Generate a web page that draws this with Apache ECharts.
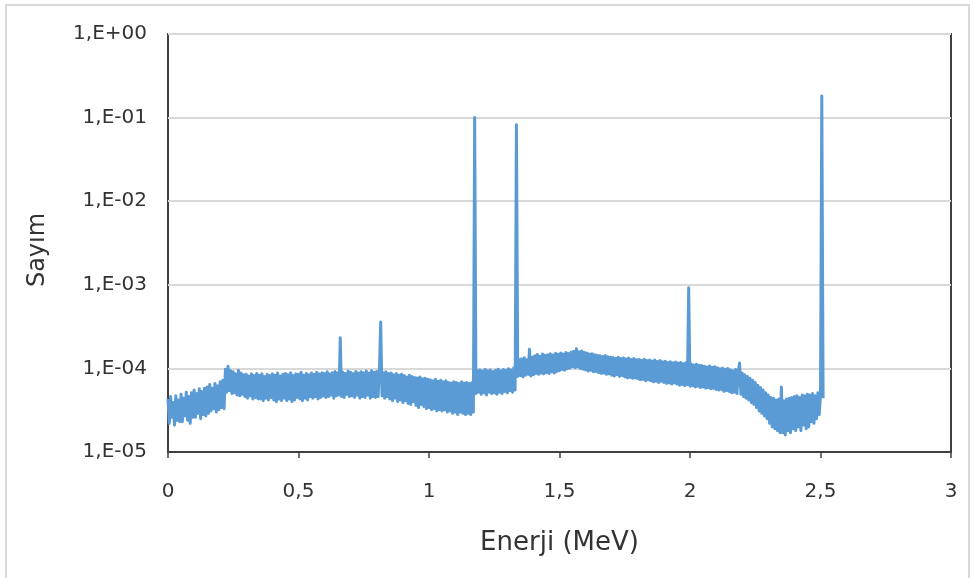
<!DOCTYPE html>
<html>
<head>
<meta charset="utf-8">
<script src="https://cdn.jsdelivr.net/npm/echarts@6/dist/echarts.min.js"></script>
<style>
  html, body { margin: 0; padding: 0; background: #fff; }
  #chart { width: 974px; height: 578px; }
</style>
</head>
<body>
<div id="chart"></div>
<script>
// Gamma spectrum: counts per channel, channel width 0.005 MeV, starting at 0 MeV.
// Counts are listed in units of 1e-5.
const CHANNEL_WIDTH = 0.005;
const COUNT_UNIT = 1e-5;

// 0.000 - 0.495 MeV
const countsA = [
  4.3, 2.2, 4.6, 2.6, 3.9, 2.1, 4.7, 2.4, 4.2, 2.3,
  4.9, 2.3, 4.4, 2.7, 5.2, 2.4, 4.6, 2.2, 5.1, 2.6,
  5.5, 2.6, 5.0, 2.9, 5.7, 2.5, 5.3, 2.8, 5.8, 2.7,
  6.0, 2.9, 6.4, 3.1, 5.8, 3.3, 6.6, 3.0, 6.2, 3.2,
  6.9, 3.4, 7.2, 3.3, 9.8, 5.2, 10.6, 5.4, 9.4, 5.0,
  9.1, 5.1, 8.6, 4.8, 9.5, 4.7, 8.8, 4.9, 8.4, 4.6,
  8.5, 4.4, 8.1, 4.7, 8.6, 4.3, 8.2, 4.5, 8.7, 4.3,
  8.3, 4.3, 8.6, 4.1, 8.0, 4.4, 8.5, 4.2, 8.2, 4.5,
  8.6, 4.2, 8.3, 4.0, 8.8, 4.3, 8.1, 4.1, 8.5, 4.4,
  8.7, 4.1, 8.4, 4.3, 8.9, 4.0, 8.2, 4.2, 8.6, 4.5
];

// 0.500 - 0.995 MeV (lines at 0.660 and 0.815 MeV)
const countsB = [
  8.5, 4.3, 9.0, 4.1, 8.3, 4.4, 8.7, 4.2, 8.4, 4.6,
  8.8, 4.4, 8.5, 4.6, 9.0, 4.3, 8.6, 4.5, 8.9, 4.7,
  8.7, 4.5, 9.1, 4.6, 8.6, 4.8, 8.9, 4.4, 9.2, 4.7,
  8.8, 4.8, 23.3, 4.6, 9.0, 4.5, 8.7, 4.9, 9.3, 4.6,
  9.0, 4.7, 8.7, 4.5, 9.2, 4.8, 8.8, 4.4, 9.1, 4.6,
  8.9, 4.5, 9.3, 4.8, 8.8, 4.4, 9.4, 4.6, 9.0, 4.5,
  9.2, 4.6, 9.5, 36.0, 4.7, 8.9, 4.4, 9.1, 4.6, 8.7,
  4.3, 8.8, 4.1, 8.4, 4.4, 8.7, 4.0, 8.3, 4.2, 8.5,
  3.9, 8.2, 4.1, 7.9, 3.8, 8.3, 3.7, 8.0, 4.0, 7.8,
  3.6, 7.7, 3.4, 7.9, 3.7, 7.5, 3.5, 7.6, 3.3, 7.4
];

// 1.000 - 1.495 MeV (lines at 1.175 and 1.335 MeV)
const countsC = [
  3.4, 7.3, 3.2, 7.1, 3.3, 7.4, 3.1, 7.0, 3.2, 7.2,
  3.1, 6.9, 3.2, 7.1, 3.0, 6.8, 3.1, 6.7, 2.9, 6.9,
  3.0, 6.8, 2.8, 6.6, 3.0, 6.9, 2.9, 6.7, 2.8, 6.8,
  2.9, 6.6, 2.8, 6.8, 3.0, 10000, 5.0, 9.4, 5.2, 9.6,
  4.9, 9.3, 5.1, 9.7, 4.8, 9.4, 5.2, 9.6, 5.0, 9.2,
  5.1, 9.5, 4.9, 9.8, 5.2, 9.4, 5.0, 9.7, 5.3, 9.5,
  5.1, 9.9, 5.4, 9.6, 5.2, 10.2, 5.5, 8200, 8.0, 12.8,
  8.2, 13.0, 7.9, 13.4, 8.3, 12.7, 8.5, 17.0, 8.1, 13.6,
  8.4, 14.2, 8.7, 14.7, 8.5, 14.0, 8.8, 14.9, 8.6, 14.4,
  8.9, 14.6, 8.7, 15.0, 9.1, 14.5, 8.8, 15.2, 9.2, 14.8
];

// 1.500 - 1.995 MeV (line at 1.995 MeV)
const countsD = [
  9.4, 15.3, 9.7, 14.9, 9.5, 15.5, 9.9, 15.1, 10.1, 15.7,
  10.5, 16.0, 10.2, 17.2, 10.4, 15.8, 10.0, 16.1, 9.8, 15.6,
  9.6, 15.3, 9.3, 14.9, 9.5, 15.0, 9.1, 14.6, 9.2, 14.4,
  8.9, 14.2, 8.7, 13.9, 8.8, 14.3, 8.5, 13.8, 8.6, 13.6,
  8.3, 13.5, 8.1, 13.2, 8.4, 13.6, 8.0, 13.1, 8.2, 13.3,
  7.9, 13.0, 7.7, 13.3, 7.8, 12.8, 7.6, 13.1, 7.7, 12.7,
  7.5, 12.8, 7.3, 12.5, 7.4, 12.9, 7.1, 12.4, 7.3, 12.6,
  7.1, 12.3, 6.9, 12.6, 7.0, 12.1, 6.8, 12.4, 7.0, 12.0,
  6.8, 12.2, 6.6, 11.8, 6.7, 12.0, 6.5, 11.7, 6.7, 11.9,
  6.5, 11.6, 6.3, 11.8, 6.4, 11.4, 6.2, 11.7, 6.4, 92.0
];

// 2.000 - 2.510 MeV (sum line at 2.505 MeV)
const countsE = [
  6.1, 11.3, 6.2, 11.0, 6.0, 11.2, 6.1, 10.9, 5.9, 10.8,
  6.0, 10.6, 5.8, 10.4, 5.9, 10.7, 5.7, 10.3, 5.8, 10.5,
  5.6, 10.2, 5.5, 9.9, 5.6, 10.1, 5.3, 9.8, 5.4, 10.0,
  5.3, 9.6, 5.1, 9.4, 5.2, 9.7, 5.0, 9.3, 11.6, 4.9,
  8.8, 4.6, 8.4, 4.4, 8.0, 4.2, 7.6, 3.9, 7.2, 3.7,
  6.8, 3.4, 6.3, 3.1, 5.9, 2.9, 5.5, 2.7, 5.1, 2.5,
  4.8, 2.2, 4.5, 2.0, 4.4, 1.9, 4.2, 1.8, 4.3, 1.7,
  6.0, 1.7, 4.1, 1.6, 4.3, 1.8, 4.4, 1.7, 4.5, 1.9,
  4.6, 1.8, 4.7, 2.0, 4.5, 1.8, 4.8, 2.1, 4.7, 1.9,
  4.9, 2.0, 4.8, 2.3, 5.0, 2.2, 4.7, 2.5, 5.1, 2.8,
  4.8, 18100, 4.4
];

const yTickExponents = [0, -1, -2, -3, -4, -5];
const xTicks = [0, 0.5, 1, 1.5, 2, 2.5, 3];

const counts = [].concat(countsA, countsB, countsC, countsD, countsE);
const spectrum = counts.map((c, i) => [+(i * CHANNEL_WIDTH).toFixed(3), c * COUNT_UNIT]);

const FONT = 'DejaVu Sans';
const TEXT = '#333333';

function expLabel(v) {
  const e = Math.round(Math.log10(v));
  if (!yTickExponents.includes(e)) return '';
  const sign = e < 0 ? '-' : '+';
  const mag = String(Math.abs(e)).padStart(2, '0');
  return '1,E' + sign + mag;
}

const chart = echarts.init(document.getElementById('chart'), null, { renderer: 'canvas' });
chart.setOption({
  animation: false,
  backgroundColor: '#ffffff',
  graphic: [{
    type: 'rect',
    shape: { x: 6, y: 5, width: 963, height: 600 },
    style: { fill: 'none', stroke: '#d9d9d9', lineWidth: 2 },
    silent: true, z: -1
  }],
  grid: {
    left: 168, right: 23, top: 34, bottom: 126,
    show: true, borderColor: '#404040', borderWidth: 2, backgroundColor: 'transparent'
  },
  xAxis: {
    type: 'value',
    min: xTicks[0], max: xTicks[xTicks.length - 1], interval: 0.5,
    name: 'Enerji (MeV)',
    nameLocation: 'middle', nameGap: 78,
    nameTextStyle: { fontFamily: FONT, fontSize: 26, color: TEXT },
    axisLine: { show: true, lineStyle: { color: '#404040', width: 2 } },
    axisTick: { show: true, inside: false, length: 6, lineStyle: { color: '#404040', width: 1.5 } },
    axisLabel: {
      margin: 30, fontFamily: FONT, fontSize: 20, color: TEXT,
      formatter: v => String(v).replace('.', ',')
    },
    splitLine: { show: false }
  },
  yAxis: {
    type: 'log', logBase: 10,
    min: Math.pow(10, yTickExponents[yTickExponents.length - 1]),
    max: Math.pow(10, yTickExponents[0]),
    name: 'Sayım',
    nameLocation: 'middle', nameGap: 118, nameRotate: 90,
    nameTextStyle: { fontFamily: FONT, fontSize: 24, color: TEXT, padding: [0, 14, 0, 0] },
    axisLine: { show: false },
    axisTick: { show: false },
    axisLabel: { margin: 21, fontFamily: FONT, fontSize: 20, color: TEXT, formatter: expLabel },
    splitLine: { show: true, lineStyle: { color: '#d9d9d9', width: 2 } },
    minorTick: { show: false }
  },
  series: [{
    type: 'line',
    data: spectrum,
    showSymbol: false,
    sampling: null,
    lineStyle: { color: '#5b9bd5', width: 3, join: 'round' },
    itemStyle: { color: '#5b9bd5' },
    z: 3
  }]
});
</script>
</body>
</html>
